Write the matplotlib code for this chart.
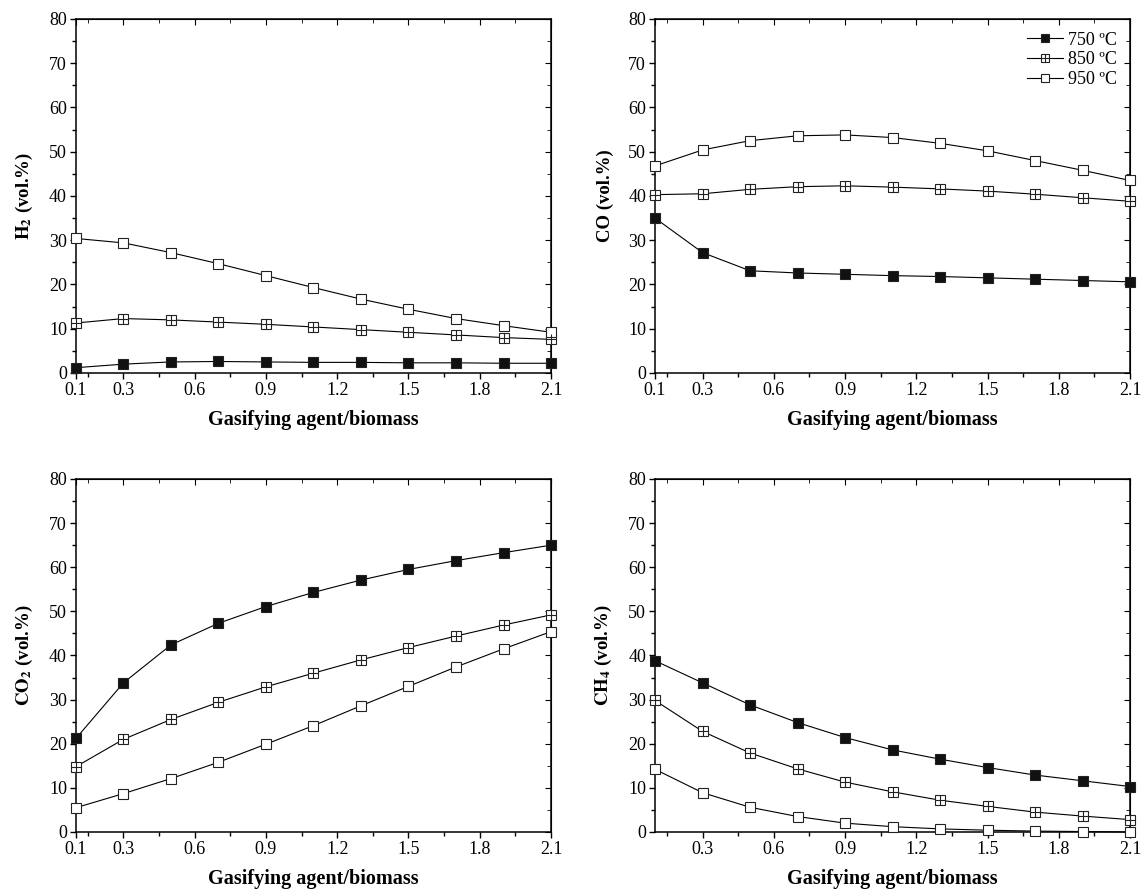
import numpy as np
import matplotlib
matplotlib.use("Agg")
import matplotlib.pyplot as plt
from matplotlib.ticker import MultipleLocator, FixedLocator
from matplotlib.legend_handler import HandlerTuple

plt.rcParams['font.family'] = ['Liberation Serif', 'DejaVu Serif']
plt.rcParams['mathtext.fontset'] = 'stix'

ratio = [0.1, 0.3, 0.5, 0.7, 0.9, 1.1, 1.3, 1.5, 1.7, 1.9, 2.1]
temps = ['750 ºC', '850 ºC', '950 ºC']

h2_750 = [1.2, 2.0, 2.5, 2.6, 2.5, 2.4, 2.4, 2.3, 2.3, 2.2, 2.2]
h2_850 = [11.3, 12.3, 12.0, 11.5, 11.0, 10.4, 9.8, 9.2, 8.6, 8.0, 7.6]
h2_950 = [30.4, 29.4, 27.2, 24.7, 22.0, 19.3, 16.7, 14.4, 12.3, 10.7, 9.2]

co_750 = [35.0, 27.2, 23.1, 22.6, 22.3, 22.0, 21.8, 21.5, 21.2, 20.9, 20.6]
co_850 = [40.3, 40.5, 41.5, 42.1, 42.3, 42.0, 41.6, 41.1, 40.4, 39.6, 38.8]
co_950 = [46.8, 50.4, 52.5, 53.6, 53.8, 53.2, 51.9, 50.2, 48.0, 45.8, 43.5]

co2_750 = [21.2, 33.8, 42.4, 47.3, 51.1, 54.3, 57.1, 59.5, 61.5, 63.3, 65.0]
co2_850 = [14.8, 21.0, 25.5, 29.4, 32.9, 36.0, 39.0, 41.8, 44.4, 46.9, 49.2]
co2_950 = [5.5, 8.7, 12.1, 15.8, 19.9, 24.1, 28.6, 33.0, 37.4, 41.5, 45.4]

ch4_750 = [38.8, 33.8, 28.8, 24.8, 21.4, 18.6, 16.5, 14.6, 12.9, 11.6, 10.3]
ch4_850 = [29.8, 22.8, 17.9, 14.3, 11.3, 9.1, 7.2, 5.8, 4.5, 3.6, 2.8]
ch4_950 = [14.2, 8.9, 5.6, 3.5, 2.0, 1.2, 0.7, 0.4, 0.2, 0.1, 0.0]

panels = [
    (r'$\mathbf{H_2}$ (vol.%)', [h2_750, h2_850, h2_950], [0.1, 0.3, 0.6, 0.9, 1.2, 1.5, 1.8, 2.1]),
    ('CO (vol.%)', [co_750, co_850, co_950], [0.1, 0.3, 0.6, 0.9, 1.2, 1.5, 1.8, 2.1]),
    (r'$\mathbf{CO_2}$ (vol.%)', [co2_750, co2_850, co2_950], [0.1, 0.3, 0.6, 0.9, 1.2, 1.5, 1.8, 2.1]),
    (r'$\mathbf{CH_4}$ (vol.%)', [ch4_750, ch4_850, ch4_950], [0.3, 0.6, 0.9, 1.2, 1.5, 1.8, 2.1]),
]

rects = [
    [0.0665, 0.5809, 0.4160, 0.3978],
    [0.5736, 0.5809, 0.4160, 0.3978],
    [0.0665, 0.0652, 0.4160, 0.3966],
    [0.5736, 0.0652, 0.4160, 0.3966],
]

fig = plt.figure(figsize=(11.42, 8.9), dpi=100)
ms = 6.5
lw = 0.8

for i, (ylab, series, xt) in enumerate(panels):
    ax = fig.add_axes(rects[i])
    s750, s850, s950 = series
    l1, = ax.plot(ratio, s750, '-s', color='black', lw=lw, ms=ms,
                  mfc='#111111', mec='#222222', mew=0.8, clip_on=False, zorder=3)
    l2, = ax.plot(ratio, s850, '-s', color='black', lw=lw, ms=ms,
                  mfc='white', mec='#222222', mew=0.8, clip_on=False, zorder=3)
    p2, = ax.plot(ratio, s850, '+', color='#222222', ms=ms, mew=0.8,
                  clip_on=False, zorder=4)
    l3, = ax.plot(ratio, s950, '-s', color='black', lw=lw, ms=ms,
                  mfc='white', mec='#222222', mew=0.8, clip_on=False, zorder=3)

    ax.set_xlim(0.1, 2.1)
    ax.set_ylim(0, 80)
    ax.xaxis.set_major_locator(FixedLocator(xt))
    ax.set_xticklabels([f'{v:.1f}' for v in xt])
    ax.xaxis.set_minor_locator(FixedLocator(np.arange(0.15, 2.1, 0.3)))
    ax.yaxis.set_major_locator(MultipleLocator(10))
    ax.yaxis.set_minor_locator(MultipleLocator(5))
    ax.tick_params(which='major', direction='out', length=4.5, width=1, labelsize=13, pad=2)
    ax.tick_params(which='minor', direction='out', length=3, width=1)
    for sp in ax.spines.values():
        sp.set_linewidth(1.1)

    top = ax.secondary_xaxis('top')
    top.xaxis.set_major_locator(FixedLocator(xt))
    top.xaxis.set_minor_locator(FixedLocator(np.arange(0.15, 2.1, 0.3)))
    top.tick_params(which='major', direction='in', length=4.5, labeltop=False)
    top.tick_params(which='minor', direction='in', length=3)
    right = ax.secondary_yaxis('right')
    right.yaxis.set_major_locator(MultipleLocator(10))
    right.yaxis.set_minor_locator(MultipleLocator(5))
    right.tick_params(which='major', direction='in', length=4.5, labelright=False)
    right.tick_params(which='minor', direction='in', length=3)

    ax.set_xlabel('Gasifying agent/biomass', fontsize=14.5, fontweight='bold', labelpad=8)
    ax.set_ylabel(ylab, fontsize=13.5, fontweight='bold', labelpad=10)

    if i == 1:
        ax.legend([l1, (l2, p2), l3], temps, loc='upper right',
                  handler_map={tuple: HandlerTuple(ndivide=1, pad=0)},
                  frameon=False, fontsize=13, handlelength=2.0, handletextpad=0.3,
                  labelspacing=0.15, borderaxespad=0.3, markerscale=0.8)

fig.savefig('out.png', dpi=100)
